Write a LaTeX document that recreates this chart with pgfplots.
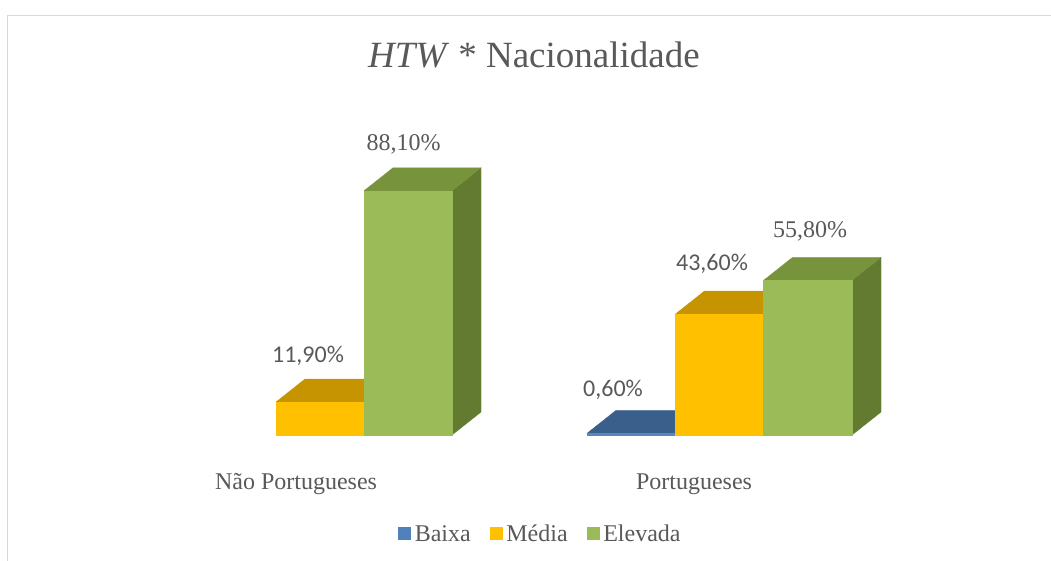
\documentclass[border=0pt]{standalone}
\usepackage{pgfplots}
\pgfplotsset{compat=1.18}
\usepackage{fontspec}
\setmainfont{Liberation Serif}
\newfontfamily\calibri{Carlito}
\definecolor{txt}{HTML}{595959}
\definecolor{frame}{HTML}{D9D9D9}
\definecolor{baixaL}{HTML}{4F81BD}
\definecolor{baixaF}{HTML}{5A86BE}
\definecolor{baixaT}{HTML}{3A5F8B}
\definecolor{baixaS}{HTML}{2F4D72}
\definecolor{mediaL}{HTML}{FFC000}
\definecolor{mediaF}{HTML}{FFC000}
\definecolor{mediaT}{HTML}{C59400}
\definecolor{mediaS}{HTML}{A67C00}
\definecolor{elevL}{HTML}{9BBB59}
\definecolor{elevF}{HTML}{9BBB59}
\definecolor{elevT}{HTML}{77933C}
\definecolor{elevS}{HTML}{637A31}
\begin{document}
\begin{tikzpicture}
\fill[white] (0,0) rectangle (1051pt,560pt);
\useasboundingbox (0,0) rectangle (1051pt,560pt);
\begin{axis}[
  at={(0,0)}, anchor=south west,
  width=1051pt, height=560pt, scale only axis,
  xmin=0, xmax=1051, ymin=-45.09, ymax=156.93,
  hide axis, clip=false,
  every axis plot/.append style={forget plot},
  legend columns=3,
  legend style={at={(axis cs:395,-35.6)}, anchor=west, draw=none, fill=none,
    font=\fontsize{24}{27}\selectfont, text=txt,
    nodes={inner sep=0pt}, cells={anchor=base west},
    /tikz/every odd column/.style={column sep=4.2pt},
    /tikz/every even column/.style={column sep=19pt}},
]
% ---- Nao Portugueses: Media (11.9)
\addplot[fill=mediaS, draw=mediaS, line width=0.3pt] coordinates {(364,0) (393,8.3) (393,20.2) (364,11.9)} -- cycle;
\addplot[fill=mediaT, draw=mediaT, line width=0.3pt] coordinates {(276,11.9) (364,11.9) (393,20.2) (305,20.2)} -- cycle;
\addplot[fill=mediaF, draw=mediaF, line width=0.3pt] coordinates {(276,0) (364,0) (364,11.9) (276,11.9)} -- cycle;
% ---- Nao Portugueses: Elevada (88.1)
\addplot[fill=elevS, draw=elevS, line width=0.3pt] coordinates {(452,0) (481,8.3) (481,96.4) (452,88.1)} -- cycle;
\addplot[fill=elevT, draw=elevT, line width=0.3pt] coordinates {(364,88.1) (452,88.1) (481,96.4) (393,96.4)} -- cycle;
\addplot[fill=elevF, draw=elevF, line width=0.3pt] coordinates {(364,0) (452,0) (452,88.1) (364,88.1)} -- cycle;
% ---- Portugueses: Baixa (0.6)
\addplot[fill=baixaS, draw=baixaS, line width=0.3pt] coordinates {(675.3,0) (704.3,8.3) (704.3,8.9) (675.3,0.6)} -- cycle;
\addplot[fill=baixaT, draw=baixaT, line width=0.3pt] coordinates {(587,0.6) (675.3,0.6) (704.3,8.9) (616,8.9)} -- cycle;
\addplot[fill=baixaF, draw=baixaF, line width=0.3pt] coordinates {(587,0) (675.3,0) (675.3,0.6) (587,0.6)} -- cycle;
% ---- Portugueses: Media (43.6)
\addplot[fill=mediaS, draw=mediaS, line width=0.3pt] coordinates {(763.6,0) (792.6,8.3) (792.6,51.9) (763.6,43.6)} -- cycle;
\addplot[fill=mediaT, draw=mediaT, line width=0.3pt] coordinates {(675.3,43.6) (763.6,43.6) (792.6,51.9) (704.3,51.9)} -- cycle;
\addplot[fill=mediaF, draw=mediaF, line width=0.3pt] coordinates {(675.3,0) (763.6,0) (763.6,43.6) (675.3,43.6)} -- cycle;
% ---- Portugueses: Elevada (55.8)
\addplot[fill=elevS, draw=elevS, line width=0.3pt] coordinates {(852,0) (881,8.3) (881,64.1) (852,55.8)} -- cycle;
\addplot[fill=elevT, draw=elevT, line width=0.3pt] coordinates {(763.6,55.8) (852,55.8) (881,64.1) (792.6,64.1)} -- cycle;
\addplot[fill=elevF, draw=elevF, line width=0.3pt] coordinates {(763.6,0) (852,0) (852,55.8) (763.6,55.8)} -- cycle;
% legend
\addlegendimage{legend image code/.code={\fill[baixaL] (0pt,2pt) rectangle (12pt,14pt);}}
\addlegendentry{Baixa}
\addlegendimage{legend image code/.code={\fill[mediaL] (0pt,2pt) rectangle (12pt,14pt);}}
\addlegendentry{Média}
\addlegendimage{legend image code/.code={\fill[elevL] (0pt,2pt) rectangle (12pt,14pt);}}
\addlegendentry{Elevada}
% title
\node[anchor=base, text=txt, font=\fontsize{37}{44}\selectfont] at (axis cs:534,132.4) {\textit{HTW} * Nacionalidade};
% data labels
\node[anchor=base, text=txt, font=\fontsize{24}{27}\selectfont] at (axis cs:403.5,102.5) {88,10\%};
\node[anchor=base, text=txt, font=\calibri\fontsize{24}{27}\selectfont] at (axis cs:308,26.0) {11,90\%};
\node[anchor=base, text=txt, font=\calibri\fontsize{24}{27}\selectfont] at (axis cs:613,14.07) {0,60\%};
\node[anchor=base, text=txt, font=\calibri\fontsize{24}{27}\selectfont] at (axis cs:712,59.2) {43,60\%};
\node[anchor=base, text=txt, font=\fontsize{24}{27}\selectfont] at (axis cs:810,71.1) {55,80\%};
% category labels
\node[anchor=base, text=txt, font=\fontsize{24}{27}\selectfont] at (axis cs:296,-19.5) {Não Portugueses};
\node[anchor=base, text=txt, font=\fontsize{24}{27}\selectfont] at (axis cs:694,-19.5) {Portugueses};
\end{axis}
\begin{scope}
\clip (0,0) rectangle (1051pt,560pt);
\draw[frame, line width=1.5pt] (7.5pt,544.5pt) rectangle (1080pt,-30pt);
\end{scope}
\end{tikzpicture}
\end{document}
